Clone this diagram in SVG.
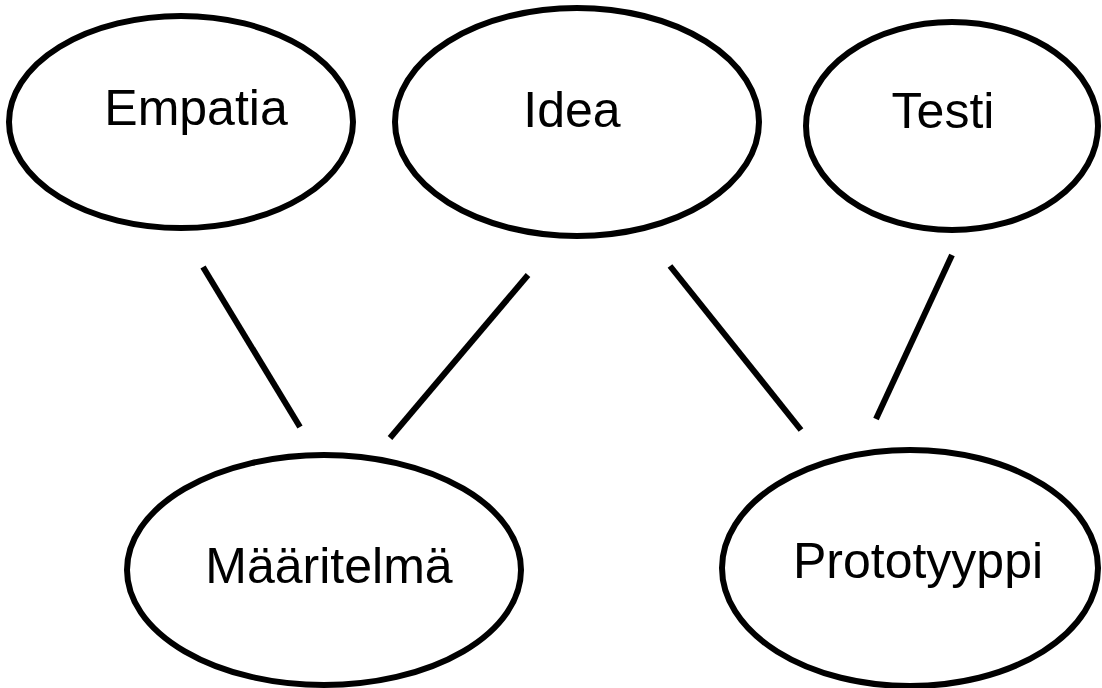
<svg xmlns="http://www.w3.org/2000/svg" width="1102" height="688" viewBox="0 0 1102 688">
<style>
.n{fill:#fff;stroke:#000;stroke-width:6}
.t{font-family:"Liberation Sans",Arial,sans-serif;font-size:50px;fill:#000;text-anchor:middle}
.c line{stroke:#000;stroke-width:6}
</style>
<rect width="1102" height="688" fill="#fff"/>
<g id="connectors" class="c">
<line x1="203" y1="267" x2="300" y2="427"/>
<line x1="528" y1="275" x2="390" y2="438"/>
<line x1="670" y1="266" x2="801" y2="430"/>
<line x1="952" y1="255" x2="876" y2="419"/>
</g>
<g id="empatia"><ellipse class="n" cx="181" cy="122" rx="172" ry="106"/><text class="t" x="196" y="125">Empatia</text></g>
<g id="idea"><ellipse class="n" cx="577" cy="122" rx="182" ry="114"/><text class="t" x="572" y="127">Idea</text></g>
<g id="testi"><ellipse class="n" cx="952" cy="126" rx="146" ry="104"/><text class="t" x="943" y="128">Testi</text></g>
<g id="maaritelma"><ellipse class="n" cx="324" cy="570" rx="197" ry="115"/><text class="t" x="329" y="583">Määritelmä</text></g>
<g id="prototyyppi"><ellipse class="n" cx="910" cy="568" rx="188" ry="118"/><text class="t" x="918" y="578">Prototyyppi</text></g>
</svg>
